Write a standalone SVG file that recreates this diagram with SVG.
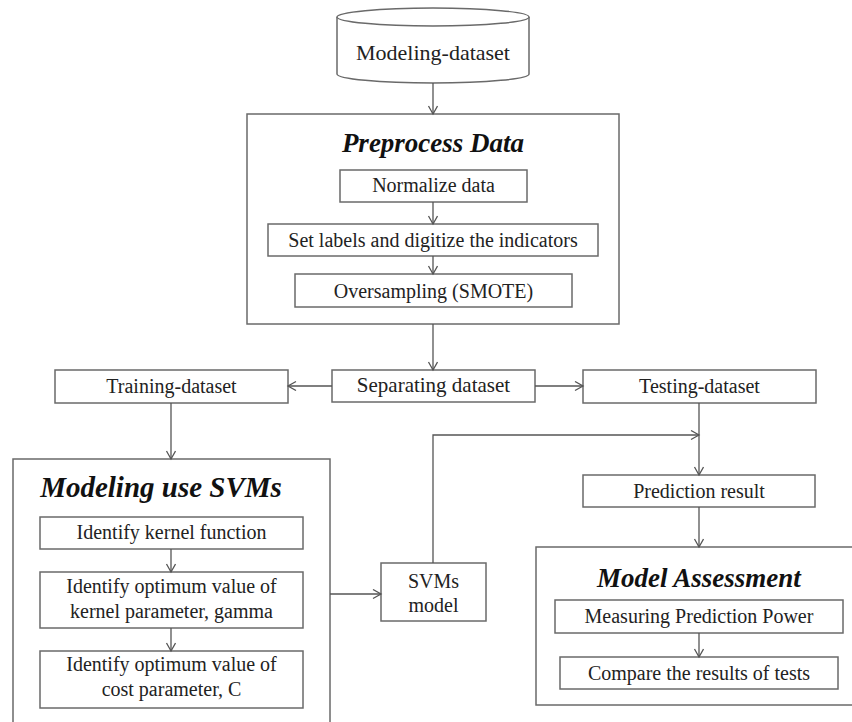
<svg xmlns="http://www.w3.org/2000/svg" width="852" height="722" viewBox="0 0 852 722">
<defs>
<marker id="arr" markerUnits="userSpaceOnUse" markerWidth="12" markerHeight="12" refX="9" refY="5" orient="auto">
<path d="M1,0.5 L9,5 L1,9.5" fill="none" stroke="#555" stroke-width="1.3"/>
</marker>
<style>
.box{fill:#fff;stroke:#6a6a6a;stroke-width:1.5}
.t{font-family:"Liberation Serif","Times New Roman",serif;font-size:20px;fill:#222;text-anchor:middle}
.h{font-family:"Liberation Serif","Times New Roman",serif;font-weight:bold;font-style:italic;fill:#111;text-anchor:middle}
.c{fill:none;stroke:#555;stroke-width:1.3}
</style>
</defs>
<rect width="852" height="722" fill="#fff"/>

<g id="modeling-dataset">
<path class="box" d="M337,17 L337,74 A96,9 0 0 0 529,74 L529,17"/>
<ellipse class="box" cx="433" cy="17" rx="96" ry="9"/>
<text class="t" x="433" y="60" style="font-size:22px">Modeling-dataset</text>
</g>

<g id="preprocess">
<rect class="box" x="247" y="114" width="372" height="210"/>
<text class="h" x="433" y="152" style="font-size:27px">Preprocess Data</text>
</g>
<g id="normalize">
<rect class="box" x="340" y="170" width="187" height="32"/>
<text class="t" x="433.5" y="192">Normalize data</text>
</g>
<g id="set-labels">
<rect class="box" x="268" y="224" width="330" height="32"/>
<text class="t" x="433" y="247">Set labels and digitize the indicators</text>
</g>
<g id="oversampling">
<rect class="box" x="295" y="274" width="277" height="33"/>
<text class="t" x="433.5" y="298">Oversampling (SMOTE)</text>
</g>

<g id="training">
<rect class="box" x="55" y="370" width="233" height="33"/>
<text class="t" x="171.5" y="393">Training-dataset</text>
</g>
<g id="separating">
<rect class="box" x="332" y="370" width="203" height="32"/>
<text class="t" x="433.5" y="392" style="font-size:21px">Separating dataset</text>
</g>
<g id="testing">
<rect class="box" x="583" y="370" width="233" height="33"/>
<text class="t" x="699.5" y="393">Testing-dataset</text>
</g>

<g id="modeling-svms">
<rect class="box" x="13" y="459" width="317" height="280"/>
<text class="h" x="161" y="497" style="font-size:29px">Modeling use SVMs</text>
</g>
<g id="kernel">
<rect class="box" x="40" y="517" width="263" height="32"/>
<text class="t" x="171.5" y="539">Identify kernel function</text>
</g>
<g id="gamma">
<rect class="box" x="40" y="572" width="263" height="56"/>
<text class="t" x="171.5" y="593">Identify optimum value of</text>
<text class="t" x="171.5" y="618">kernel parameter, gamma</text>
</g>
<g id="cost">
<rect class="box" x="40" y="651" width="263" height="57"/>
<text class="t" x="171.5" y="671">Identify optimum value of</text>
<text class="t" x="171.5" y="696">cost parameter, C</text>
</g>

<g id="svms-model">
<rect class="box" x="381" y="563" width="105" height="58"/>
<text class="t" x="433.5" y="588">SVMs</text>
<text class="t" x="433.5" y="612">model</text>
</g>

<g id="prediction">
<rect class="box" x="583" y="475" width="232" height="32"/>
<text class="t" x="699" y="498">Prediction result</text>
</g>

<g id="assessment">
<rect class="box" x="536" y="547" width="330" height="158"/>
<text class="h" x="699" y="587" style="font-size:27px">Model Assessment</text>
</g>
<g id="measuring">
<rect class="box" x="555" y="600" width="288" height="33"/>
<text class="t" x="699" y="623">Measuring Prediction Power</text>
</g>
<g id="compare">
<rect class="box" x="560" y="657" width="278" height="32"/>
<text class="t" x="699" y="680">Compare the results of tests</text>
</g>

<g id="connectors">
<line class="c" x1="433" y1="83" x2="433" y2="114" marker-end="url(#arr)"/>
<line class="c" x1="433" y1="202" x2="433" y2="224" marker-end="url(#arr)"/>
<line class="c" x1="433" y1="256" x2="433" y2="274" marker-end="url(#arr)"/>
<line class="c" x1="433" y1="324" x2="433" y2="370" marker-end="url(#arr)"/>
<line class="c" x1="332" y1="386" x2="288" y2="386" marker-end="url(#arr)"/>
<line class="c" x1="535" y1="386" x2="583" y2="386" marker-end="url(#arr)"/>
<line class="c" x1="171" y1="403" x2="171" y2="459" marker-end="url(#arr)"/>
<line class="c" x1="171" y1="549" x2="171" y2="572" marker-end="url(#arr)"/>
<line class="c" x1="171" y1="628" x2="171" y2="651" marker-end="url(#arr)"/>
<line class="c" x1="330" y1="594" x2="381" y2="594" marker-end="url(#arr)"/>
<polyline class="c" points="433,563 433,435 699,435" marker-end="url(#arr)"/>
<line class="c" x1="699" y1="403" x2="699" y2="475" marker-end="url(#arr)"/>
<line class="c" x1="699" y1="507" x2="699" y2="547" marker-end="url(#arr)"/>
<line class="c" x1="699" y1="633" x2="699" y2="657" marker-end="url(#arr)"/>
</g>
</svg>
